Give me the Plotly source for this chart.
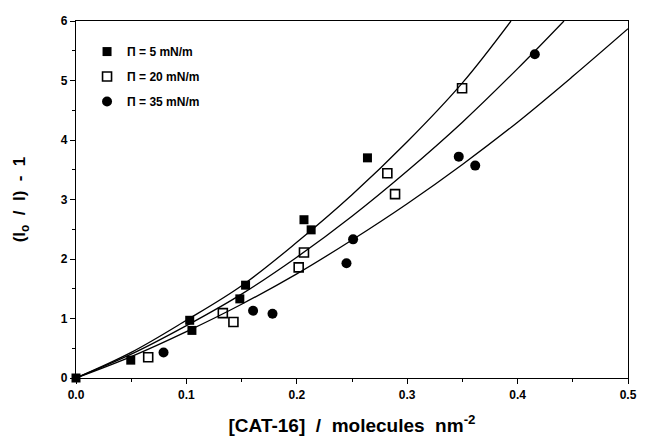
import plotly.graph_objects as go

# Data points
x_p5 = [0.0, 0.0496, 0.103, 0.105, 0.1484, 0.1536, 0.2065, 0.213, 0.264]
y_p5 = [0.0, 0.30, 0.97, 0.80, 1.33, 1.56, 2.66, 2.49, 3.70]

x_p20 = [0.0654, 0.133, 0.1426, 0.2017, 0.2065, 0.282, 0.289, 0.3497]
y_p20 = [0.35, 1.09, 0.94, 1.86, 2.11, 3.44, 3.09, 4.87]

x_p35 = [0.0793, 0.1604, 0.178, 0.245, 0.251, 0.3467, 0.3616, 0.4156]
y_p35 = [0.43, 1.13, 1.08, 1.93, 2.33, 3.72, 3.57, 5.44]

# Fitted curves
cx_top = [0.0, 0.05, 0.1, 0.15, 0.2, 0.25, 0.3, 0.35, 0.394]
cy_top = [0.0, 0.43, 0.97, 1.55, 2.28, 3.08, 3.97, 4.96, 6.0]
cx_mid = [0.0, 0.05, 0.1, 0.15, 0.2, 0.25, 0.3, 0.35, 0.4, 0.442]
cy_mid = [0.0, 0.40, 0.88, 1.41, 2.03, 2.72, 3.48, 4.30, 5.20, 6.0]
cx_bot = [0.0, 0.05, 0.1, 0.15, 0.2, 0.25, 0.3, 0.35, 0.4, 0.45, 0.5]
cy_bot = [0.0, 0.36, 0.78, 1.24, 1.75, 2.32, 2.93, 3.59, 4.30, 5.07, 5.87]

x_ticks = [0, 0.1, 0.2, 0.3, 0.4, 0.5]
x_ticktext = ["0.0", "0.1", "0.2", "0.3", "0.4", "0.5"]
y_ticks = [0, 1, 2, 3, 4, 5, 6]

labels = ["\u03a0 = 5 mN/m", "\u03a0 = 20 mN/m", "\u03a0 = 35 mN/m"]

fig = go.Figure()
line = dict(color="black", width=1.3, shape="spline")
for cx, cy in [(cx_top, cy_top), (cx_mid, cy_mid), (cx_bot, cy_bot)]:
    fig.add_trace(go.Scatter(x=cx, y=cy, mode="lines", line=line,
                             showlegend=False, hoverinfo="skip"))

fig.add_trace(go.Scatter(x=x_p5, y=y_p5, mode="markers", name=labels[0], legendgroup="a",
                         cliponaxis=False,
                         marker=dict(symbol="square", size=9, color="black")))
fig.add_trace(go.Scatter(x=x_p20, y=y_p20, mode="markers", name=labels[1], legendgroup="b",
                         cliponaxis=False,
                         marker=dict(symbol="square-open", size=9, color="black",
                                     line=dict(width=1.6, color="black"))))
fig.add_trace(go.Scatter(x=x_p35, y=y_p35, mode="markers", name=labels[2], legendgroup="c",
                         cliponaxis=False,
                         marker=dict(symbol="circle", size=10, color="black")))

font_fam = "Liberation Sans, Arial, sans-serif"
fig.update_layout(
    width=646, height=444,
    margin=dict(l=76, r=9, t=21, b=66),
    plot_bgcolor="white", paper_bgcolor="white",
    font=dict(family=font_fam, color="black"),
    showlegend=True,
    legend=dict(x=0.02, y=0.955, xanchor="left", yanchor="top",
                bgcolor="rgba(0,0,0,0)", tracegroupgap=6, itemwidth=30,
                font=dict(size=12, weight="bold", family=font_fam)),
    xaxis=dict(range=[0, 0.5], tickvals=x_ticks, ticktext=x_ticktext,
               ticks="outside", ticklen=5, tickwidth=1.2, tickcolor="black",
               minor=dict(dtick=0.05, ticks="outside", ticklen=3, tickcolor="black"),
               showline=True, linecolor="black", linewidth=1.3, mirror=True,
               showgrid=False, zeroline=False,
               tickfont=dict(size=12, weight="bold", family=font_fam),
               title=dict(text="[CAT-16]  /  molecules  nm<sup>-2</sup>",
                          font=dict(size=19, weight="bold", family=font_fam), standoff=18)),
    yaxis=dict(range=[0, 6], tickvals=y_ticks,
               ticks="outside", ticklen=5, tickwidth=1.2, tickcolor="black",
               minor=dict(dtick=0.5, ticks="outside", ticklen=3, tickcolor="black"),
               showline=True, linecolor="black", linewidth=1.3, mirror=True,
               showgrid=False, zeroline=False,
               tickfont=dict(size=12, weight="bold", family=font_fam),
               title=dict(text="(I<sub>o</sub>  /  I)  -  1",
                          font=dict(size=17, weight="bold", family=font_fam), standoff=30)),
)

fig.write_html("out.html")
